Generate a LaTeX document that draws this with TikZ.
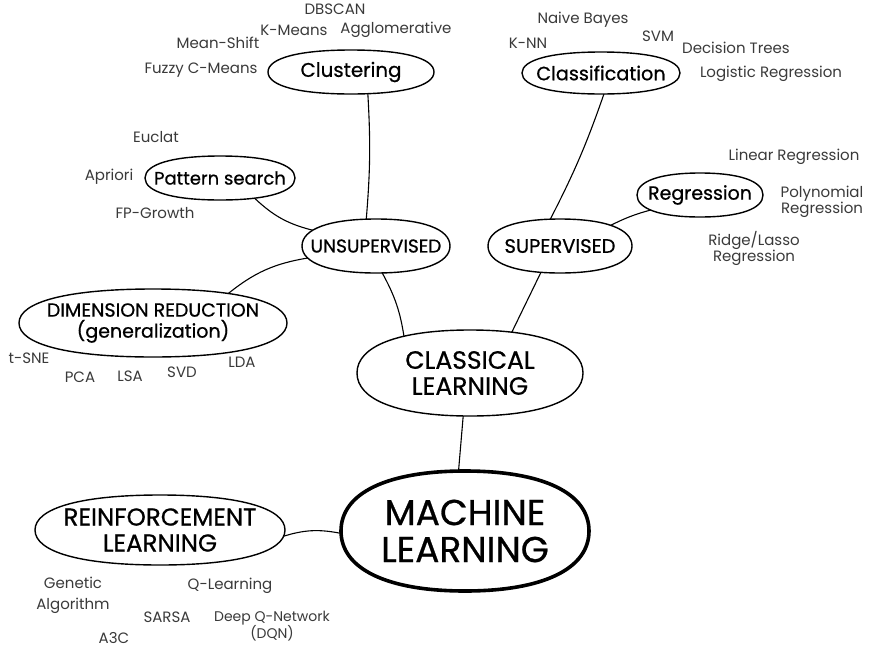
\documentclass[tikz,border=0pt]{standalone}
\usepackage{fontspec}
\setmainfont{Poppins}
\newfontfamily\nodefont{Poppins}[FakeBold=0.7]
\usetikzlibrary{shapes.geometric}
\definecolor{labgray}{RGB}{58,58,58}
\newcommand{\fsz}[1]{\nodefont\fontsize{#1}{#1}\selectfont}
% boxy hand-drawn-like bubble outline around a named anchor node
\newcommand{\bubblob}[4][]{%
  \draw[blobline,#1,shift={(#2.center)}]
    (#3,0) .. controls (#3,{0.63*#4}) and ({0.63*#3},#4) .. (0,#4)
    .. controls ({-0.63*#3},#4) and (-#3,{0.63*#4}) .. (-#3,0)
    .. controls (-#3,{-0.63*#4}) and ({-0.63*#3},-#4) .. (0,-#4)
    .. controls ({0.63*#3},-#4) and (#3,{-0.63*#4}) .. (#3,0) -- cycle;}
\begin{document}
\begin{tikzpicture}[x=1pt,y=-1pt,
  anc/.style={ellipse, inner sep=0pt, outer sep=0pt},
  blobline/.style={draw=black, fill=white, line width=1.4pt},
  bigline/.style={line width=3.6pt},
  btxt/.style={inner sep=0pt, align=center, text=black},
  lab/.style={text=labgray, inner sep=0pt, align=center, font=\fontsize{15}{16}\selectfont},
  link/.style={line width=1.1pt, draw=black}
]
\useasboundingbox[fill=white] (0,0) rectangle (879,654);

% bubble nodes (anchors for connectors)
\node[anc, minimum width=166pt, minimum height=44pt] (clu) at (351,72) {};
\node[anc, minimum width=158pt, minimum height=42pt] (cls) at (601,73) {};
\node[anc, minimum width=150pt, minimum height=44pt] (pat) at (220,178) {};
\node[anc, minimum width=126pt, minimum height=44pt] (reg) at (700,195) {};
\node[anc, minimum width=148pt, minimum height=54pt] (uns) at (376,246) {};
\node[anc, minimum width=144pt, minimum height=54pt] (sup) at (560,246) {};
\node[anc, minimum width=268pt, minimum height=68pt] (dim) at (153,323) {};
\node[anc, minimum width=226pt, minimum height=86pt] (cla) at (470,373) {};
\node[anc, minimum width=250pt, minimum height=122pt] (mac) at (465,531) {};
\node[anc, minimum width=250pt, minimum height=70pt] (rei) at (160,530) {};

% connectors (drawn first, bubbles cover their ends)
\draw[link] (clu.-52) to[bend left=4] (uns.110);
\draw[link] (pat.-30) to[bend right=15] (uns.166);
\draw[link] (uns.190) to[bend right=15] (dim.21);
\draw[link] (uns.-77) to[bend left=10] (cla.152);
\draw[link] (cls.-82) to[bend left=4] (sup.110);
\draw[link] (reg.197) to[bend right=6] (sup.22);
\draw[link] (sup.234) -- (cla.44);
\draw[link] (cla.-99) -- (mac.96);
\draw[link] (rei.-3) to[bend left=14] (mac.181);

% bubble outlines
\bubblob{clu}{83}{22}
\bubblob{cls}{79}{21}
\bubblob{pat}{75}{22}
\bubblob{reg}{63}{22}
\bubblob{uns}{74}{27}
\bubblob{sup}{72}{27}
\bubblob{dim}{134}{34}
\bubblob{cla}{113}{43}
\bubblob[bigline]{mac}{124}{60}
\bubblob{rei}{125}{35}

% bubble texts
\node[btxt, font=\fsz{19.8}] (clu-t) at (clu.center) {Clustering};
\node[btxt, font=\fsz{19.2}] (cls-t) at (cls.center) {Classification};
\node[btxt, font=\fsz{18}] (pat-t) at (pat.center) {Pattern search};
\node[btxt, font=\fsz{19}] (reg-t) at (reg.center) {Regression};
\node[btxt, font=\fsz{18.5}] (uns-t) at (uns.center) {UNSUPERVISED};
\node[btxt, font=\fsz{19.5}] (sup-t) at (sup.center) {SUPERVISED};
\node[btxt, font=\nodefont\fontsize{19}{21}\selectfont] (dim-t) at (dim.center) {DIMENSION REDUCTION\\(generalization)};
\node[btxt, font=\nodefont\fontsize{25}{26}\selectfont] (cla-t) at (cla.center) {CLASSICAL\\LEARNING};
\node[btxt, font=\nodefont\fontsize{36}{37}\selectfont] (mac-t) at (mac.center) {MACHINE\\LEARNING};
\node[btxt, font=\nodefont\fontsize{24.5}{26}\selectfont] (rei-t) at (rei.center) {REINFORCEMENT\\LEARNING};

% labels
\node[lab] (l1) at (335,9) {DBSCAN};
\node[lab] (l2) at (294,30) {K-Means};
\node[lab] (l3) at (396,30) {Agglomerative};
\node[lab] (l4) at (218,43) {Mean-Shift};
\node[lab] (l5) at (201,70) {Fuzzy C-Means};
\node[lab] (l6) at (583,20) {Naive Bayes};
\node[lab] (l7) at (528,43) {K-NN};
\node[lab] (l8) at (658,36) {SVM};
\node[lab] (l9) at (736,48) {Decision Trees};
\node[lab] (l10) at (771,74) {Logistic Regression};
\node[lab] (l11) at (156,137) {Euclat};
\node[lab] (l12) at (109,177) {Apriori};
\node[lab] (l13) at (155,213) {FP-Growth};
\node[lab] (l14) at (794,157) {Linear Regression};
\node[lab] (l15) at (822,202) {Polynomial\\Regression};
\node[lab] (l16) at (754,248) {Ridge/Lasso\\Regression};
\node[lab] (l17) at (29,358) {t-SNE};
\node[lab] (l18) at (80,377) {PCA};
\node[lab] (l19) at (130,376) {LSA};
\node[lab] (l20) at (182,372) {SVD};
\node[lab] (l21) at (242,362) {LDA};
\node[lab, font=\fontsize{15}{21}\selectfont] (l22) at (73,595) {Genetic\\Algorithm};
\node[lab] (l23) at (230,586) {Q-Learning};
\node[lab] (l24) at (167,617) {SARSA};
\node[lab, font=\fontsize{14}{15}\selectfont] (l25) at (272,626) {Deep Q-Network\\(DQN)};
\node[lab] (l26) at (114,638) {A3C};
\end{tikzpicture}
\end{document}
